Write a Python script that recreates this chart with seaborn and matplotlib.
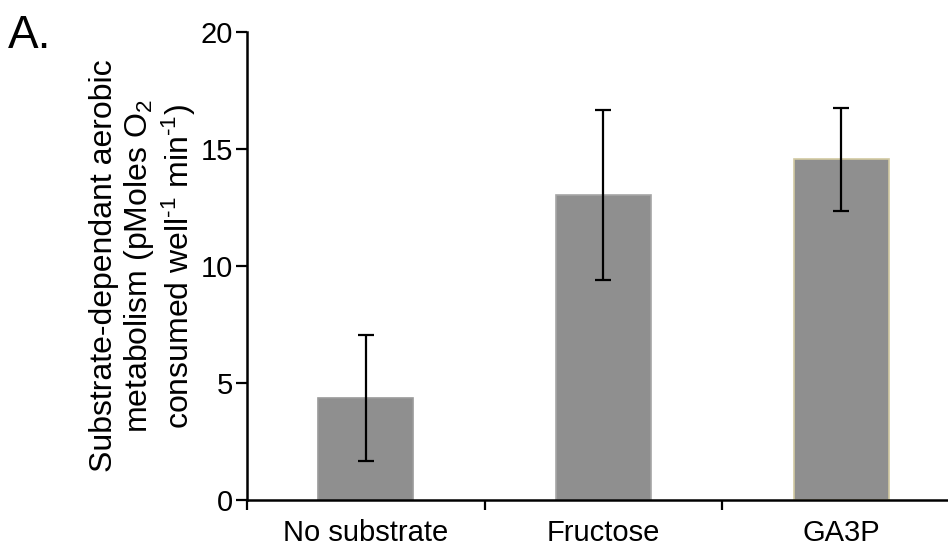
import matplotlib
matplotlib.use("Agg")
import matplotlib.pyplot as plt
import seaborn as sns
import pandas as pd
import numpy as np

categories = ["No substrate", "Fructose", "GA3P"]
means = [4.36, 13.03, 14.57]
errors = [2.7, 3.63, 2.2]
edge_colors = ["#9a9a9a", "#a5a5a5", "#d2c9a2"]
yticks = [0, 5, 10, 15, 20]

sns.set_style("white")
plt.rcParams["font.family"] = ["Liberation Sans", "DejaVu Sans"]
plt.rcParams["mathtext.fontset"] = "custom"
plt.rcParams["mathtext.rm"] = "Liberation Sans"
plt.rcParams["mathtext.default"] = "regular"
plt.rcParams["text.color"] = "black"
plt.rcParams["axes.labelcolor"] = "black"
plt.rcParams["xtick.color"] = "black"
plt.rcParams["ytick.color"] = "black"

df = pd.DataFrame({"cat": categories, "val": means})

fig = plt.figure(figsize=(9.48, 5.5), dpi=100)
ax = fig.add_axes([0.2606, 0.0909, 0.7394, 0.8509])

sns.barplot(data=df, x="cat", y="val", color="#8f8f8f", width=0.4,
            errorbar=None, ax=ax, saturation=1)
for patch, ec in zip(ax.patches, edge_colors):
    patch.set_edgecolor(ec)
    patch.set_linewidth(1.2)

xpos = np.arange(len(categories))
ax.errorbar(xpos, means, yerr=errors, fmt="none", ecolor="black",
            elinewidth=1.6, capsize=6, capthick=1.6, zorder=5)

ax.set_ylim(0, 20)
ax.set_xlim(-0.5, 2.45)
ax.set_yticks(yticks)
ax.set_yticklabels([str(t) for t in yticks], fontsize=21)

ax.set_xticks([-0.5, 0.5, 1.5])
ax.set_xticklabels([])
ax.set_xticks(xpos, minor=True)
ax.set_xticklabels(categories, minor=True, fontsize=21)
ax.tick_params(axis="x", which="minor", length=0, pad=14)
ax.tick_params(axis="x", which="major", length=7, width=1.6, direction="out",
               bottom=True)
ax.tick_params(axis="y", length=8, width=1.6, direction="out",
               left=True, pad=2)
ax.set_xlabel("")

for s in ["top", "right"]:
    ax.spines[s].set_visible(False)
for s in ["left", "bottom"]:
    ax.spines[s].set_color("black")
    ax.spines[s].set_linewidth(1.8)

ax.set_ylabel("Substrate-dependant aerobic\nmetabolism (pMoles O$_2$\nconsumed well$^{\u2010 1}$ min$^{\u2010 1}$)",
              fontsize=23, labelpad=2, linespacing=1.12)

fig.text(0.008, 0.935, "A.", fontsize=33, ha="left", va="center")

fig.savefig("out.png", dpi=100)
